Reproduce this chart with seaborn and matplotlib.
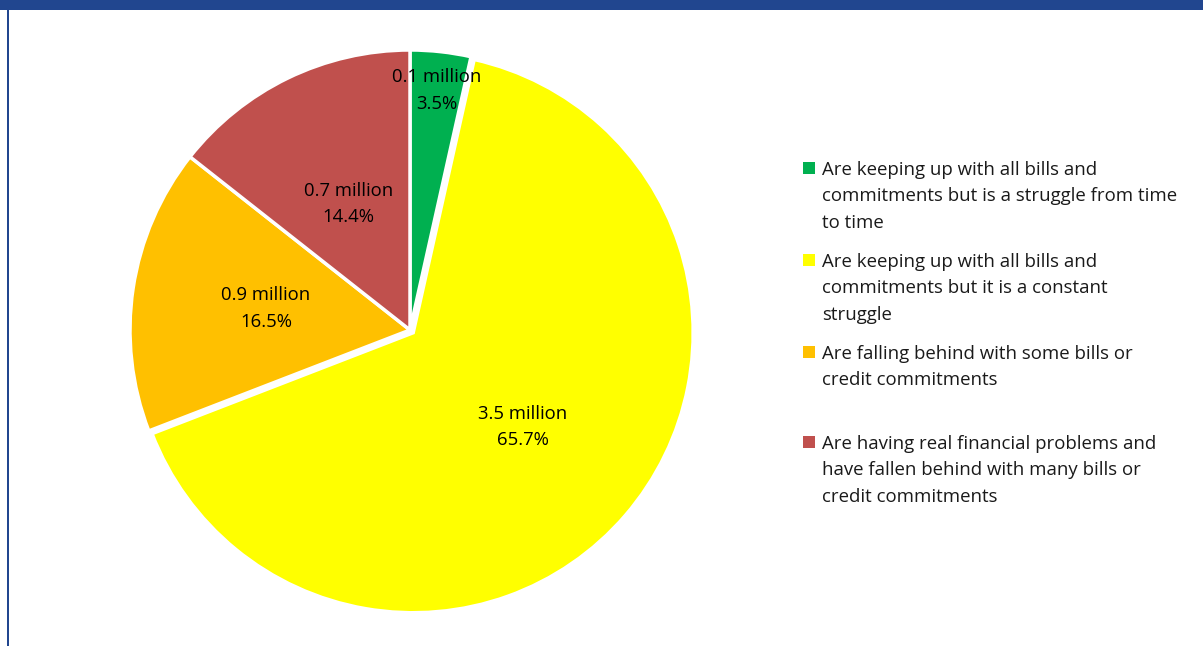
import matplotlib
matplotlib.use("Agg")
import matplotlib.pyplot as plt
from matplotlib.patches import Rectangle
import seaborn as sns
import numpy as np

# Household financial situation
categories = [
    "Are keeping up with all bills and\ncommitments but is a struggle from time\nto time",
    "Are keeping up with all bills and\ncommitments but it is a constant\nstruggle",
    "Are falling behind with some bills or\ncredit commitments",
    "Are having real financial problems and\nhave fallen behind with many bills or\ncredit commitments",
]
shares = [3.5, 65.7, 16.5, 14.4]
millions = [0.1, 3.5, 0.9, 0.7]
colors = ["#00B050", "#FFFF00", "#FFC000", "#C0504D"]

sns.set_theme(style="white")
plt.rcParams["font.family"] = ["Open Sans", "DejaVu Sans"]

W, H = 1203, 646
fig = plt.figure(figsize=(W / 100, H / 100), dpi=100)
fig.patch.set_facecolor("white")

# frame: blue band on top and a thin blue rule on the left
fig.add_artist(Rectangle((0, 1 - 10 / H), 1, 10 / H, transform=fig.transFigure,
                         facecolor="#21468F", edgecolor="none"))
fig.add_artist(Rectangle((7 / W, 0), 2 / W, 1, transform=fig.transFigure,
                         facecolor="#21468F", edgecolor="none"))

# pie axes: centre (410, 330) px, radius 280 px
cx, cy, r = 410, 330, 280
ax = fig.add_axes([(cx - r) / W, (H - cy - r) / H, 2 * r / W, 2 * r / H])
palette = sns.color_palette(colors)
explode = [0, 0.015, 0, 0]
wedges, _ = ax.pie(shares, colors=palette, startangle=90, counterclock=False,
                   explode=explode, radius=1,
                   wedgeprops=dict(edgecolor="white", linewidth=2.5))
for w in wedges:
    w.set_clip_on(False)
ax.set_xlim(-1, 1)
ax.set_ylim(-1, 1)
ax.set_aspect("equal")
ax.axis("off")

# data labels inside the wedges
label_r = [0.86, 0.53, 0.52, 0.5]
for w, m, s, lr in zip(wedges, millions, shares, label_r):
    ang = np.deg2rad((w.theta1 + w.theta2) / 2)
    ax.text(lr * np.cos(ang), lr * np.sin(ang), f"{m:.1f} million\n{s:.1f}%",
            ha="center", va="center", fontsize=13.3, color="black",
            linespacing=1.6)

# legend drawn as coloured squares with wrapped text
tops = [168, 260, 352, 442]
for lab, col, ty in zip(categories, colors, tops):
    fig.add_artist(Rectangle((803 / W, 1 - (ty + 6) / H), 12 / W, 12 / H,
                             transform=fig.transFigure, facecolor=col,
                             edgecolor="none"))
    fig.text(822 / W, 1 - (ty - 7) / H, lab, ha="left", va="top",
             fontsize=13.4, color="#1a1a1a", linespacing=1.6)

fig.savefig("out.png", dpi=100)
